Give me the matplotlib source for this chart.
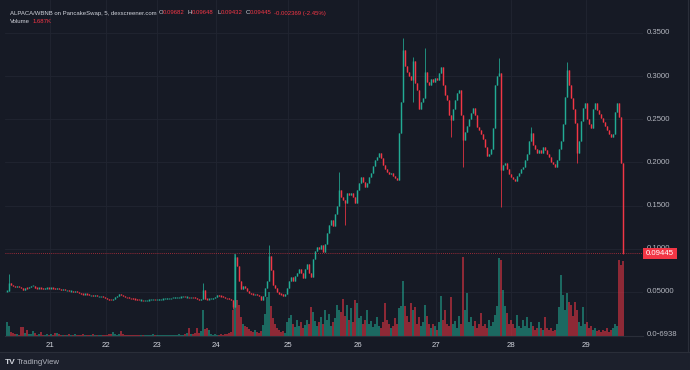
import numpy as np
import matplotlib.pyplot as plt
from matplotlib.patches import Rectangle

# ── data: 5-min candles, price in thousandths of WBNB, volume in K ───────────

first_open_m = 51

close_m = [
    # day 20/21 -> 24, quiet drift
    51, 60, 58, 57, 56, 57, 56, 55, 52, 55,
    54, 56, 57, 57, 55, 54, 55, 54, 53, 54,
    55, 54, 55, 54, 53, 54, 53, 52, 53, 52,
    52, 51, 51, 50, 51, 50, 49, 48, 47, 48,
    47, 46, 46, 45, 46, 45, 45, 45, 44, 43,
    42, 41, 40.5, 42, 44, 45.5, 47, 46, 45, 44,
    43.5, 43, 42.5, 42, 41.5, 41, 40.5, 40.5, 40, 40,
    40.5, 40.5, 41, 41, 40.5, 41, 41.5, 41.5, 42, 42,
    42.5, 42.5, 43, 43, 43.5, 43.5, 44, 44, 44.5, 44,
    44, 43.5, 44, 43.5, 43, 42, 41, 42, 52, 42,
    41.5, 42, 42, 43, 44.5, 46, 45.5, 45, 44, 43,
    42.5, 42, 41,
    # day 24 -> 26, first pumps
    33, 90, 80, 62, 53, 57, 54, 51, 49, 48,
    47, 47, 46, 45, 41, 45, 55, 62, 92, 75,
    58, 55, 50, 48, 47, 45, 47, 55, 62, 67,
    63, 68, 72, 76, 72, 66, 77, 82, 72, 67,
    88, 97, 102, 100, 104, 96, 105, 118, 128, 133,
    126, 140, 150, 168, 160, 157, 153, 164, 162, 165,
    160, 153, 168, 176, 183, 177, 171, 176, 183, 188,
    196, 203, 206, 211, 205, 197, 192, 189, 186, 188,
    184, 182, 180, 234,
    # day 26 -> end, top range and the final dump
    270, 330, 312, 305, 300, 296, 318, 292, 284, 262,
    270, 275, 305, 293, 290, 297, 293, 298, 296, 304,
    311, 290, 278, 272, 255, 249, 262, 272, 280, 284,
    255, 226, 235, 242, 250, 257, 263, 255, 241, 238,
    233, 227, 218, 207, 210, 215, 240, 290, 300, 304,
    191, 197, 199, 192, 187, 183, 181, 179, 184, 188,
    192, 195, 203, 210, 225, 234, 220, 216, 211, 214,
    211, 218, 214, 210, 206, 201, 198, 195, 203, 215,
    225, 245, 276, 307, 290, 275, 262, 246, 211, 225,
    248, 263, 269, 250, 244, 240, 262, 269, 261, 256,
    252, 247, 242, 238, 233, 229, 233, 258, 269, 253,
    199, 94.45,
]

# long wicks (candle index -> price in thousandths)
wick_high_m = {1: 71, 57: 48, 98: 60, 114: 94, 131: 104, 166: 189, 198: 344,
               203: 322, 209: 333, 246: 321, 262: 241, 280: 316}
wick_low_m = {113: 30, 169: 127, 203: 270, 222: 230, 228: 195, 247: 148,
              285: 199, 308: 94.32}

volume_k = [
    0.31, 0.22, 0.09, 0.07, 0.04, 0.05, 0.03, 0.20, 0.20, 0.07,
    0.13, 0.05, 0.04, 0.11, 0.06, 0.03, 0.04, 0.09, 0.03, 0.02,
    0.04, 0.03, 0.05, 0.02, 0.06, 0.07, 0.04, 0.03, 0.02, 0.03,
    0.02, 0.04, 0.03, 0.02, 0.05, 0.02, 0.03, 0.02, 0.04, 0.03,
    0.02, 0.03, 0.02, 0.04, 0.02, 0.03, 0.02, 0.02, 0.03, 0.02,
    0.03, 0.04, 0.05, 0.09, 0.04, 0.03, 0.05, 0.11, 0.04, 0.02,
    0.02, 0.03, 0.02, 0.02, 0.03, 0.02, 0.02, 0.03, 0.02, 0.02,
    0.03, 0.02, 0.02, 0.04, 0.02, 0.03, 0.02, 0.02, 0.03, 0.02,
    0.02, 0.03, 0.02, 0.02, 0.03, 0.02, 0.04, 0.02, 0.03, 0.04,
    0.06, 0.18, 0.05, 0.04, 0.06, 0.18, 0.07, 0.12, 0.58, 0.15,
    0.18, 0.13, 0.05, 0.03, 0.04, 0.02, 0.03, 0.04, 0.03, 0.05,
    0.04, 0.06, 0.08,
    0.58, 1.85, 0.81, 0.70, 0.43, 0.27, 0.22, 0.20, 0.16, 0.11,
    0.09, 0.13, 0.09, 0.07, 0.11, 0.25, 0.49, 0.88, 1.00, 0.67,
    0.40, 0.27, 0.18, 0.13, 0.09, 0.11, 0.07, 0.31, 0.40, 0.47,
    0.27, 0.20, 0.36, 0.22, 0.31, 0.18, 0.25, 0.36, 0.27, 0.65,
    0.54, 0.34, 0.22, 0.31, 0.43, 0.27, 0.58, 0.36, 0.49, 0.22,
    0.31, 0.40, 0.70, 0.58, 0.54, 0.83, 0.45, 0.70, 0.36, 0.63,
    0.31, 0.81, 0.74, 0.40, 0.45, 0.27, 0.36, 0.58, 0.27, 0.34,
    0.20, 0.27, 0.43, 0.22, 0.18, 0.31, 0.74, 0.36, 0.27, 0.18,
    0.22, 0.40, 0.27, 0.63,
    0.67, 1.24, 0.67, 0.45, 0.31, 0.74, 0.58, 0.65, 0.27, 0.43,
    0.22, 0.31, 0.70, 0.45, 0.27, 0.18, 0.27, 0.22, 0.13, 0.31,
    0.90, 0.36, 0.58, 0.27, 0.22, 0.88, 0.27, 0.34, 0.18, 0.45,
    0.27, 1.78, 0.58, 0.97, 0.31, 0.43, 0.22, 0.34, 0.18, 0.27,
    0.52, 0.22, 0.27, 0.18, 0.36, 0.22, 0.31, 0.47, 0.67, 1.75,
    1.71, 1.03, 0.67, 0.52, 0.27, 0.36, 0.27, 0.18, 0.47, 0.22,
    0.18, 0.36, 0.22, 0.43, 0.18, 0.31, 0.22, 0.13, 0.18, 0.31,
    0.18, 0.13, 0.43, 0.18, 0.13, 0.18, 0.11, 0.13, 0.27, 0.65,
    1.37, 0.92, 0.58, 0.97, 0.76, 0.70, 0.45, 0.76, 0.58, 0.31,
    0.22, 0.65, 0.27, 0.31, 0.18, 0.22, 0.13, 0.18, 0.11, 0.13,
    0.09, 0.13, 0.11, 0.18, 0.09, 0.13, 0.18, 0.27, 0.22, 1.71,
    1.60, 1.687,
]

day_labels = ["21", "22", "23", "24", "25", "26", "27", "28", "29"]
day_starts = [21.5, 49.5, 75, 104.5, 140.5, 175.5, 214.5, 252, 289.5]   # candle index

price_ticks = [0.35, 0.30, 0.25, 0.20, 0.15, 0.10, 0.05, 0.0]
price_tick_labels = ["0.3500", "0.3000", "0.2500", "0.2000", "0.1500",
                     "0.1000", "0.05000", "0.0\u20116938"]
last_price = 0.09445

# ── colours ──────────────────────────────────────────────────────────────────

BG = "#161a25"
STRIP = "#1c202c"
GRID = "#212531"
TEXT = "#b2b5be"
UP = "#22ab94"
DOWN = "#f23645"

plt.rcParams["font.family"] = ["Liberation Sans", "DejaVu Sans"]

# ── build candles ────────────────────────────────────────────────────────────

close = np.array(close_m) / 1000
open_ = np.concatenate([[first_open_m / 1000], close[:-1]])
high = np.maximum(open_, close)
low = np.minimum(open_, close)
for i, v in wick_high_m.items():
    high[i] = max(high[i], v / 1000)
for i, v in wick_low_m.items():
    low[i] = min(low[i], v / 1000)
vol = np.array(volume_k)
idx = np.arange(len(close))
colors = np.where(close >= open_, UP, DOWN)

# keep flat candles visible (about one pixel tall)
body_lo = np.minimum(open_, close)
body_hi = np.maximum(open_, close)
mid = (body_lo + body_hi) / 2
body_lo = np.minimum(body_lo, mid - 0.0007)
body_hi = np.maximum(body_hi, mid + 0.0007)

W, H = 690, 370
fig = plt.figure(figsize=(W / 100, H / 100), dpi=100, facecolor=BG)

def px_axes(x0, y0, x1, y1, **kw):
    return fig.add_axes([x0 / W, 1 - y1 / H, (x1 - x0) / W, (y1 - y0) / H], **kw)

ymin, ymax = -0.00116, 0.3882

# volume pane (behind)
vax = px_axes(5, 0, 643, 336)
vax.set_facecolor(BG)
vax.set_xlim(-1, 318)
vax.set_ylim(0, 7.56)
for v in day_starts:
    vax.axvline(v, color=GRID, linewidth=0.6, zorder=0)
for v in price_ticks[:-1]:
    vax.axhline((v - ymin) / (ymax - ymin) * 7.56, color=GRID, linewidth=0.6, zorder=0)
vax.bar(idx, vol, width=0.6, color=colors, alpha=0.55, linewidth=0, zorder=1)
vax.axis("off")

# price pane
ax = px_axes(5, 0, 643, 336)
ax.patch.set_visible(False)
ax.vlines(idx, low, high, colors=colors, linewidth=0.55)
ax.vlines(idx, body_lo, body_hi, colors=colors, linewidth=1.05)
ax.axhline(last_price, color=DOWN, linewidth=0.6, linestyle=(0, (1, 1.5)), alpha=0.8)
ax.set_xlim(-1, 318)
ax.set_ylim(ymin, ymax)
ax.set_yticks([])
ax.set_xticks(day_starts)
ax.set_xticklabels(day_labels, fontsize=5.6, color="#d1d4dc")
ax.tick_params(axis="x", length=0, pad=4.5)
for s in ["top", "right", "left"]:
    ax.spines[s].set_visible(False)
ax.spines["bottom"].set_color("#2a2e39")
ax.spines["bottom"].set_linewidth(0.8)

# price scale
pax = px_axes(643, 0, 690, 336)
pax.set_xlim(0, 47)
pax.set_ylim(ymin, ymax)
pax.axis("off")
for v, lab in zip(price_ticks, price_tick_labels):
    pax.text(4, v, lab, fontsize=5.6, color=TEXT, va="center", ha="left",
             clip_on=True)
pax.add_patch(Rectangle((0, last_price - 0.0064), 34, 0.0128, color=DOWN,
                        linewidth=0, zorder=3))
pax.text(17, last_price, "0.09445", fontsize=5.6, color="white", va="center",
         ha="center", zorder=4)

# bottom strip + border
fig.add_artist(Rectangle((0, 0), 1, 1 - 352 / H, transform=fig.transFigure,
                         color=STRIP, linewidth=0))
fig.add_artist(plt.Line2D([0, 1], [1 - 352 / H] * 2, transform=fig.transFigure,
                          color="#2a2e39", linewidth=0.8))
fig.add_artist(plt.Line2D([688 / W] * 2, [1 - 352 / H, 1], transform=fig.transFigure,
                          color="#2a2e39", linewidth=0.8))
fig.text(5 / W, 1 - 362 / H, "TV", fontsize=6, fontweight="bold", color="#d1d4dc",
         va="center", ha="left")
fig.text(17 / W, 1 - 362 / H, "TradingView", fontsize=5.6, color=TEXT,
         va="center", ha="left")

# legend
def ftxt(x, y, s, c):
    fig.text(x / W, 1 - y / H, s, fontsize=4.3, color=c, va="center", ha="left")

ftxt(10, 13, "ALPACA/WBNB on PancakeSwap, 5, dexscreener.com", "#d1d4dc")
for x, lab in [(159, "O"), (188, "H"), (217, "L"), (246, "C")]:
    ftxt(x, 13, lab, "#d1d4dc")
for x, val in [(163, "0.09682"), (192, "0.09648"), (221, "0.09432"), (250, "0.09445")]:
    ftxt(x, 13, val, DOWN)
ftxt(274, 13, "-0.002369 (-2.45%)", DOWN)
ftxt(10, 21.5, "Volume", "#d1d4dc")
ftxt(33, 21.5, "1.687K", DOWN)

fig.savefig("out.png", dpi=100, facecolor=BG)
